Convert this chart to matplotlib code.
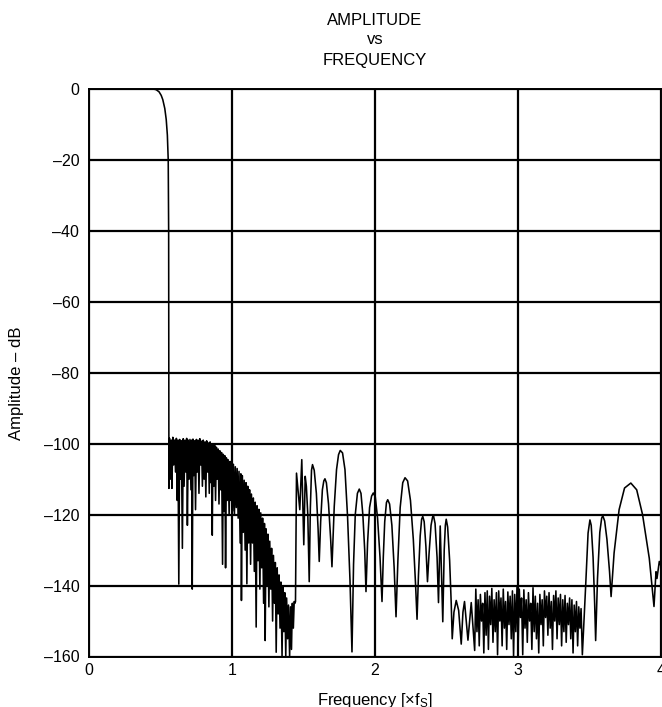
import matplotlib
matplotlib.use("Agg")
import matplotlib.pyplot as plt

plt.rcParams['font.family'] = ['Liberation Sans', 'DejaVu Sans']
plt.rcParams['mathtext.fontset'] = 'custom'
plt.rcParams['mathtext.rm'] = 'Liberation Sans'
plt.rcParams['mathtext.it'] = 'Liberation Sans:italic'

# ---------------- data ----------------
passband_f = [0.000, 0.450, 0.470, 0.490, 0.505, 0.516, 0.530, 0.540, 0.548, 0.554, 0.557, 0.558, 0.559]
passband_db = [0.0, 0.0, -0.2, -0.8, -1.8, -3.0, -5.5, -8.6, -13.0, -20.0, -40.0, -80.0, -112.6]

stop1_f = [0.563, 0.570, 0.576, 0.580, 0.586, 0.592, 0.598, 0.605, 0.611, 0.617,
           0.622, 0.628, 0.634, 0.640, 0.646, 0.653, 0.659, 0.665, 0.671, 0.677,
           0.683, 0.688, 0.694, 0.700, 0.706, 0.713, 0.718, 0.722, 0.727, 0.733,
           0.739, 0.745, 0.751, 0.757, 0.763, 0.769, 0.775, 0.781, 0.787, 0.793,
           0.799, 0.805, 0.811, 0.817, 0.823, 0.829, 0.835, 0.841, 0.847, 0.853,
           0.858, 0.862, 0.867, 0.873, 0.879, 0.885, 0.891, 0.897, 0.903, 0.909,
           0.915, 0.921, 0.927, 0.934, 0.939, 0.945, 0.950, 0.955, 0.961, 0.967,
           0.973, 0.980, 0.986, 0.992, 0.998]
stop1_db = [-98.5, -110, -99, -112.6, -98.2, -106, -99, -108, -98.5, -116,
            -99, -139.6, -98.8, -110, -99.2, -129.5, -98.6, -112, -99, -108,
            -98.5, -123, -99, -110, -98.8, -113, -99, -141, -98.7, -109,
            -99.2, -118.6, -98.8, -108, -99, -114, -98.6, -106, -99.3, -112,
            -99, -110, -99.5, -115, -99.2, -108, -99.8, -114, -99.5, -111,
            -100, -125.8, -100.2, -112, -100.5, -116, -101, -110, -101.5, -117,
            -102, -113, -102.5, -134, -103, -119, -103.4, -135, -104, -116,
            -104.5, -120, -105, -116, -105.5]

stop2_f = [1.004, 1.010, 1.017, 1.023, 1.030, 1.036, 1.043, 1.049, 1.057, 1.062,
           1.066, 1.072, 1.079, 1.085, 1.092, 1.098, 1.104, 1.110, 1.117, 1.123,
           1.130, 1.136, 1.143, 1.149, 1.156, 1.162, 1.169, 1.175, 1.182, 1.188,
           1.195, 1.201, 1.208, 1.214, 1.221, 1.227, 1.232, 1.238, 1.245, 1.251,
           1.258, 1.264, 1.271, 1.277, 1.284, 1.290, 1.297, 1.303, 1.309, 1.316,
           1.323, 1.329, 1.336, 1.342, 1.350, 1.356, 1.363, 1.369, 1.376, 1.382,
           1.389, 1.395, 1.403, 1.409, 1.416, 1.422, 1.429, 1.435, 1.440, 1.444]
stop2_db = [-119, -105.8, -120, -106.5, -118, -107, -121, -107.8, -128, -108.5,
            -144.2, -109, -125, -110.3, -130, -111, -139.5, -112, -128, -113,
            -134, -114.2, -128, -115.3, -136, -116.5, -151.7, -117.5, -133, -118.5,
            -141, -119.5, -135, -121, -145, -122.5, -155.5, -124, -140, -125.5,
            -146, -127.5, -141, -129.5, -150, -131.5, -145, -133.5, -158.8, -135,
            -148, -137, -152, -139, -160, -140.5, -153, -142, -160, -143.5,
            -155, -145.5, -160, -146, -158, -145, -152, -144.5, -145, -144.5]

lobes1_f = [1.451, 1.474, 1.488, 1.502, 1.512, 1.520, 1.530, 1.540, 1.548, 1.556,
            1.563, 1.575, 1.590, 1.602, 1.610, 1.620, 1.632, 1.642, 1.650, 1.660,
            1.675, 1.690, 1.699, 1.715, 1.731, 1.745, 1.757, 1.773, 1.790, 1.808,
            1.825, 1.839, 1.850, 1.862, 1.877, 1.890, 1.902, 1.915, 1.928, 1.937,
            1.948, 1.962, 1.976, 1.988, 2.002, 2.018, 2.035, 2.049, 2.058, 2.068,
            2.080, 2.089, 2.102, 2.118, 2.134, 2.147, 2.160, 2.176, 2.194, 2.210,
            2.228, 2.248, 2.268, 2.284, 2.294, 2.304, 2.316, 2.326, 2.334, 2.344,
            2.356, 2.367, 2.378, 2.392, 2.402, 2.409, 2.420, 2.434, 2.444, 2.456,
            2.474, 2.484, 2.492, 2.498, 2.508, 2.522, 2.533, 2.540, 2.552, 2.568,
            2.585, 2.603, 2.615, 2.626, 2.650, 2.673, 2.697]
lobes1_db = [-108.3, -118.6, -104.5, -128.5, -109.2, -112, -120, -138.9, -118, -107.5,
             -105.9, -107.5, -114, -124, -133.2, -122, -113, -110.5, -109.9, -111,
             -117, -127, -134.7, -117.7, -107.3, -103.1, -101.9, -102.6, -107.3, -120.5,
             -138.4, -158.7, -134, -120, -114, -112.8, -114, -120, -130, -141.7,
             -128, -118, -114.8, -113.9, -115, -121, -132, -144.5, -132, -122,
             -116.6, -115.8, -117, -123, -135, -148.8, -133, -118, -111, -109.6,
             -110.5, -116, -127, -140, -149.5, -137, -126, -121.3, -120.5, -122,
             -129, -138.9, -131, -123, -120.8, -120.3, -122.5, -132, -144.8, -123.2,
             -150.2, -130, -123, -121.3, -123.5, -133, -145, -155.0, -147.5, -144.2,
             -147, -156.5, -147.5, -144.5, -155.4, -144.8, -158.3]

floor_f = [2.705, 2.713, 2.721, 2.729, 2.737, 2.745, 2.753, 2.761, 2.769, 2.777,
           2.785, 2.793, 2.801, 2.809, 2.817, 2.825, 2.833, 2.841, 2.849, 2.857,
           2.865, 2.873, 2.881, 2.889, 2.897, 2.905, 2.913, 2.921, 2.929, 2.937,
           2.945, 2.953, 2.961, 2.969, 2.977, 2.985, 2.993, 3.001, 3.009, 3.017,
           3.025, 3.033, 3.041, 3.049, 3.057, 3.065, 3.073, 3.081, 3.089, 3.097,
           3.105, 3.113, 3.121, 3.129, 3.137, 3.145, 3.153, 3.161, 3.169, 3.177,
           3.185, 3.193, 3.201, 3.209, 3.217, 3.225, 3.233, 3.241, 3.249, 3.257,
           3.265, 3.273, 3.281, 3.289, 3.297, 3.305, 3.313, 3.321, 3.329, 3.337,
           3.345, 3.353, 3.361, 3.369, 3.377, 3.385, 3.393, 3.401, 3.409, 3.417,
           3.425, 3.433, 3.441, 3.450]
floor_db = [-141.0, -153, -144, -157, -142.5, -150, -145, -159, -142, -154,
            -141.5, -158, -143, -151, -140.8, -156, -144, -153, -142, -159.5,
            -141.5, -150, -143.5, -157, -141, -152, -144.5, -158, -141.8, -151,
            -143, -155, -141.5, -160, -142.5, -153, -140.5, -157, -141, -149,
            -143.5, -159.5, -141.2, -152, -144, -156, -142, -150, -145, -158,
            -140.6, -153, -143, -155, -145, -159, -142.5, -151, -144, -157,
            -141.5, -149, -143, -154, -142, -152, -144.5, -158, -142.8, -150,
            -141.5, -155, -143.5, -151, -142.5, -157, -144, -153, -142.8, -156,
            -145, -151, -143.5, -155, -144, -159, -145.5, -153, -144.5, -157,
            -146, -152, -146.5, -159.5]

lobes2_f = [3.473, 3.490, 3.503, 3.512, 3.525, 3.536, 3.543, 3.556, 3.572, 3.585,
            3.593, 3.606, 3.622, 3.640, 3.651, 3.672, 3.707, 3.745, 3.789, 3.830,
            3.871, 3.918, 3.951, 3.965, 3.972, 3.988, 4.000]
lobes2_db = [-140.2, -125.2, -121.5, -123, -132, -145, -155.5, -138, -125, -121,
             -120.3, -121.8, -127, -136, -143.1, -130.8, -118.6, -112.5, -111.1, -113,
             -120, -132.3, -145.9, -136.1, -138, -133.2, -134.6]

x_ticks = [0, 1, 2, 3, 4]
y_ticks = [0, -20, -40, -60, -80, -100, -120, -140, -160]

freq = passband_f + stop1_f + stop2_f + lobes1_f + floor_f + lobes2_f
amp = passband_db + stop1_db + stop2_db + lobes1_db + floor_db + lobes2_db

# ---------------- figure ----------------
W, H = 662, 707
fig = plt.figure(figsize=(W / 100, H / 100), dpi=100)
ax = fig.add_axes([89 / W, 1 - 656.5 / H, (661 - 89) / W, (656.5 - 89) / H])

ax.plot(freq, amp, color='black', lw=1.15, zorder=3, clip_on=True)

ax.set_xlim(0, 4)
ax.set_ylim(-160, 0)
ax.set_xticks(x_ticks)
ax.set_yticks(y_ticks)
ax.set_xticklabels([str(v) for v in x_ticks])
ax.set_yticklabels([str(v).replace('-', '\u2013') for v in y_ticks])
ax.grid(True, color='black', lw=1.6)
ax.set_axisbelow(True)
ax.tick_params(length=0, labelsize=11.5, pad=7)
ax.tick_params(axis='x', pad=5)
for s in ax.spines.values():
    s.set_linewidth(1.4)
    s.set_color('black')

cx = 375 / W
fig.text(cx, 1 - 25 / H, 'AMPLITUDE', ha='center', va='baseline', fontsize=12)
fig.text(cx, 1 - 44 / H, 'vs', ha='center', va='baseline', fontsize=12)
fig.text(cx, 1 - 65 / H, 'FREQUENCY', ha='center', va='baseline', fontsize=12)

fig.text(16.5 / W, 1 - 383.5 / H, 'Amplitude \u2013 dB', rotation=90,
         ha='center', va='center', fontsize=12)
fig.text(cx, 1 - 705 / H, r'Frequency [$\times$f$_\mathrm{S}$]', ha='center',
         va='baseline', fontsize=12)

fig.savefig('out.png', dpi=100)
